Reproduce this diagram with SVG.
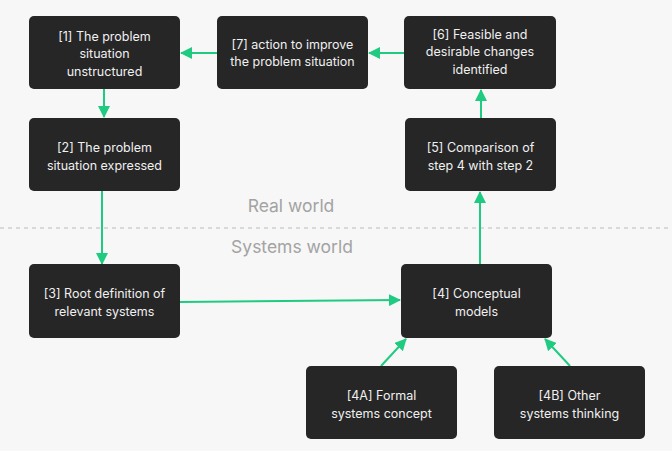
<svg xmlns="http://www.w3.org/2000/svg" width="672" height="457" viewBox="0 0 672 457">
<defs>
<style>
.node rect{fill:#262626;}
.node text{fill:#f0f0f0;font-family:Inter,"DejaVu Sans",sans-serif;font-size:12.5px;text-anchor:middle;}
.conn line{stroke:#1ecb80;stroke-width:2;}
.lbl{fill:#a3a3a3;font-family:Inter,"DejaVu Sans",sans-serif;font-size:17.5px;text-anchor:middle;}
</style>
<marker id="ah" viewBox="0 0 12 12" refX="11" refY="6" markerWidth="12" markerHeight="12" markerUnits="userSpaceOnUse" orient="auto">
<path d="M0,0 L12,6 L0,12 Z" fill="#1ecb80"/>
</marker>
</defs>
<rect x="0" y="0" width="672" height="451" fill="#f7f7f7"/>
<rect x="0" y="451" width="672" height="6" fill="#ffffff"/>
<line x1="0" y1="228" x2="672" y2="228" stroke="#cfcfcf" stroke-width="1.5" stroke-dasharray="4,4"/>
<text class="lbl" x="291" y="212">Real world</text>
<text class="lbl" x="292" y="253">Systems world</text>
<g class="conn">
<line x1="217" y1="53" x2="181" y2="53" marker-end="url(#ah)"/>
<line x1="404" y1="53" x2="369" y2="53" marker-end="url(#ah)"/>
<line x1="104" y1="89" x2="104" y2="117" marker-end="url(#ah)"/>
<line x1="481" y1="118" x2="481" y2="90" marker-end="url(#ah)"/>
<line x1="102" y1="191" x2="102" y2="264" marker-end="url(#ah)"/>
<line x1="480" y1="265" x2="480" y2="192" marker-end="url(#ah)"/>
<line x1="180" y1="302" x2="400" y2="300" marker-end="url(#ah)"/>
<line x1="381" y1="366" x2="406" y2="339" marker-end="url(#ah)"/>
<line x1="570" y1="366" x2="545" y2="339" marker-end="url(#ah)"/>
</g>
<g id="n1" class="node"><rect x="29" y="16" width="151" height="73" rx="5"/><text x="104.5" y="41">[1] The problem</text><text x="104.5" y="58">situation</text><text x="104.5" y="76">unstructured</text></g>
<g id="n7" class="node"><rect x="217" y="16" width="151" height="73" rx="5"/><text x="292.5" y="49">[7] action to improve</text><text x="292.5" y="66">the problem situation</text></g>
<g id="n6" class="node"><rect x="404" y="16" width="152" height="73" rx="5"/><text x="480" y="39">[6] Feasible and</text><text x="480" y="56">desirable changes</text><text x="480" y="74">identified</text></g>
<g id="n2" class="node"><rect x="29" y="118" width="151" height="73" rx="5"/><text x="104.5" y="152">[2] The problem</text><text x="104.5" y="170">situation expressed</text></g>
<g id="n5" class="node"><rect x="405" y="118" width="151" height="73" rx="5"/><text x="480.5" y="152">[5] Comparison of</text><text x="480.5" y="170">step 4 with step 2</text></g>
<g id="n3" class="node"><rect x="29" y="264" width="151" height="74" rx="5"/><text x="104.5" y="298">[3] Root definition of</text><text x="104.5" y="316">relevant systems</text></g>
<g id="n4" class="node"><rect x="401" y="264" width="151" height="74" rx="5"/><text x="476.5" y="298">[4] Conceptual</text><text x="476.5" y="316">models</text></g>
<g id="n4a" class="node"><rect x="306" y="366" width="151" height="73" rx="5"/><text x="381.5" y="400">[4A] Formal</text><text x="381.5" y="418">systems concept</text></g>
<g id="n4b" class="node"><rect x="494" y="366" width="151" height="73" rx="5"/><text x="569.5" y="400">[4B] Other</text><text x="569.5" y="418">systems thinking</text></g>
</svg>
